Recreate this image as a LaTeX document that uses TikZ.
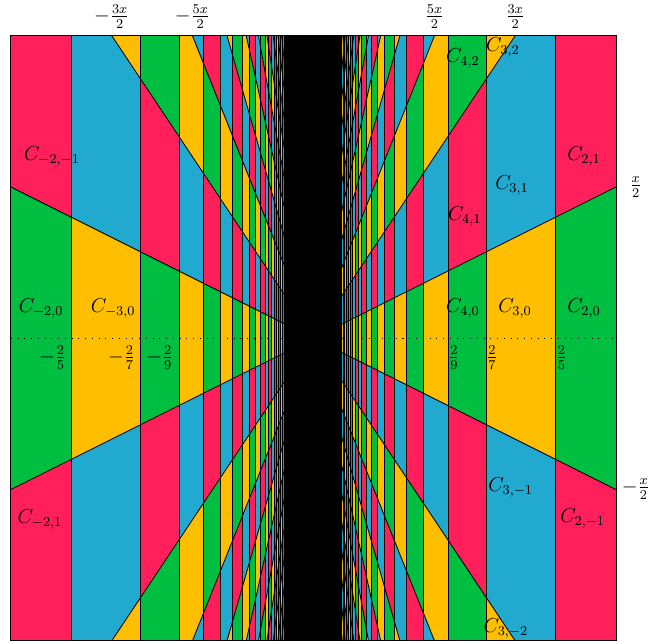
\documentclass[tikz,border=0pt]{standalone}
\definecolor{cellgreen}{HTML}{00BE3F}
\definecolor{cellred}{HTML}{FF1F5B}
\definecolor{cellyellow}{HTML}{FFBF00}
\definecolor{cellblue}{HTML}{22A9CF}
\colorlet{cell0}{cellgreen}
\colorlet{cell1}{cellred}
\colorlet{cell2}{cellyellow}
\colorlet{cell3}{cellblue}
\begin{document}
\begin{tikzpicture}[x=12.6cm, y=12.6cm, every node/.style={font=\large}, edge/.style={black, line width=0.5pt}, lab/.style={inner sep=1pt}]
    \useasboundingbox (-0.518,-0.505) rectangle (0.5545,0.559);
    \begin{scope}
        \clip (-0.5,-0.5) rectangle (0.5,0.5);
        \foreach \n in {2,...,28}{
            \pgfmathsetmacro{\a}{2/(2*\n+1)}
            \pgfmathsetmacro{\b}{2/(2*\n-1)}
            \pgfmathtruncatemacro{\kmax}{(2*\n+3)/4}
            \foreach \k in {-\kmax,...,\kmax}{
                \pgfmathtruncatemacro{\col}{2*mod(\n,2)+mod(abs(\k),2)}
                \pgfmathsetmacro{\lo}{(2*\k-1)/2}
                \pgfmathsetmacro{\hi}{(2*\k+1)/2}
                \fill[cell\col] ({\a},{\lo*\a}) -- ({\b},{\lo*\b}) -- ({\b},{\hi*\b}) -- ({\a},{\hi*\a}) -- cycle;
                \fill[cell\col] ({-\a},{\lo*\a}) -- ({-\b},{\lo*\b}) -- ({-\b},{\hi*\b}) -- ({-\a},{\hi*\a}) -- cycle;
            }
        }
        \fill[black] (-0.0351,-0.5) rectangle (0.0351,0.5);
        \foreach \n in {2,...,28}{
            \pgfmathsetmacro{\a}{2/(2*\n+1)}
            \draw[edge] ({\a},-0.5) -- ({\a},0.5);
            \draw[edge] ({-\a},-0.5) -- ({-\a},0.5);
        }
        \foreach \k in {0,...,14}{
            \pgfmathsetmacro{\s}{(2*\k+1)/2}
            \draw[edge] (-1,{-\s}) -- (1,{\s});
            \draw[edge] (-1,{\s}) -- (1,{-\s});
        }
    \end{scope}
    \draw[edge] (-0.5,-0.5) rectangle (0.5,0.5);
    \draw[dash pattern=on 0.6pt off 3.4pt] (-0.5,0) -- (0.5,0);
    \node (cm2m1) at (-0.432,0.300) {$C_{-2,-1}$};
    \node (cm20) at (-0.450,0.050) {$C_{-2,0}$};
    \node (cm30) at (-0.331,0.050) {$C_{-3,0}$};
    \node (cm21) at (-0.452,-0.299) {$C_{-2,1}$};
    \node (c21) at (0.447,0.301) {$C_{2,1}$};
    \node (c31) at (0.328,0.252) {$C_{3,1}$};
    \node (c42) at (0.247,0.462) {$C_{4,2}$};
    \node (c32) at (0.313,0.481) {$C_{3,2}$};
    \node (c41) at (0.250,0.202) {$C_{4,1}$};
    \node (c40) at (0.247,0.050) {$C_{4,0}$};
    \node (c30) at (0.333,0.050) {$C_{3,0}$};
    \node (c20) at (0.447,0.050) {$C_{2,0}$};
    \node (c3m1) at (0.326,-0.247) {$C_{3,-1}$};
    \node (c2m1) at (0.445,-0.297) {$C_{2,-1}$};
    \node (c3m2) at (0.318,-0.479) {$C_{3,-2}$};
    \node[lab] (fm5) at (-0.431,-0.0325) {$-\frac{2}{5}$};
    \node[lab] (fm7) at (-0.317,-0.0325) {$-\frac{2}{7}$};
    \node[lab] (fm9) at (-0.254,-0.0325) {$-\frac{2}{9}$};
    \node[lab] (f9) at (0.232,-0.0325) {$\frac{2}{9}$};
    \node[lab] (f7) at (0.295,-0.0325) {$\frac{2}{7}$};
    \node[lab] (f5) at (0.410,-0.0325) {$\frac{2}{5}$};
    \node[lab] (tm3) at (-0.3333,0.532) {$-\frac{3x}{2}$};
    \node[lab] (tm5) at (-0.2,0.532) {$-\frac{5x}{2}$};
    \node[lab] (t5) at (0.2,0.532) {$\frac{5x}{2}$};
    \node[lab] (t3) at (0.3333,0.532) {$\frac{3x}{2}$};
    \node[lab] (rp) at (0.5325,0.25) {$\frac{x}{2}$};
    \node[lab] (rm) at (0.5325,-0.249) {$-\frac{x}{2}$};
\end{tikzpicture}
\end{document}
